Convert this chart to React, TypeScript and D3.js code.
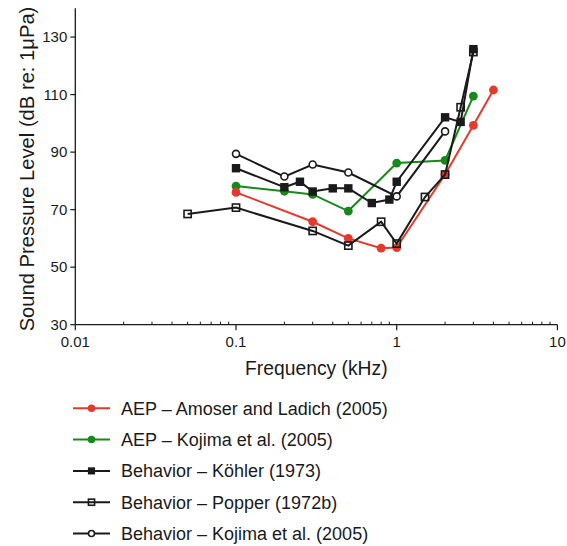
import React from "react";
import * as d3 from "d3";

const W = 567;
const H = 546;

// Data (frequency in kHz, SPL in dB re 1 µPa)
const amoserFreq = [0.1, 0.3, 0.5, 0.8, 1, 2, 3, 4];
const amoserSPL = [76, 65.8, 60, 56.6, 56.8, 82.2, 99.3, 111.6];

const kojimaAepFreq = [0.1, 0.2, 0.3, 0.5, 1, 2, 3];
const kojimaAepSPL = [78.2, 76.4, 75.3, 69.5, 86.2, 87.1, 109.5];

const kohlerFreq = [0.1, 0.2, 0.25, 0.3, 0.4, 0.5, 0.7, 0.9, 1, 2, 2.5, 3];
const kohlerSPL = [84.4, 77.8, 79.7, 76.3, 77.4, 77.4, 72.3, 73.5, 79.7, 102.1, 100.5, 125.8];

const popperFreq = [0.05, 0.1, 0.3, 0.5, 0.8, 1, 1.5, 2, 2.5, 3];
const popperSPL = [68.5, 70.7, 62.6, 57.5, 65.8, 58.2, 74.4, 82.2, 105.6, 124.8];

const kojimaBehFreq = [0.1, 0.2, 0.3, 0.5, 1, 2];
const kojimaBehSPL = [89.4, 81.5, 85.7, 82.9, 74.6, 97.2];

const yTicks = [30, 50, 70, 90, 110, 130];
const xMajor = [0.01, 0.1, 1, 10];
const xMajorLabels = ["0.01", "0.1", "1", "10"];

const legendLabels = [
  "AEP \u2013 Amoser and Ladich (2005)",
  "AEP \u2013 Kojima et al. (2005)",
  "Behavior \u2013 K\u00f6hler (1973)",
  "Behavior \u2013 Popper (1972b)",
  "Behavior \u2013 Kojima et al. (2005)",
];

type Marker = "dot" | "fsq" | "osq" | "ocirc";
const RED = "#e5392d";
const GREEN = "#17891a";
const BLACK = "#1a1a1a";

const FONT = "'Liberation Sans', Arial, Helvetica, sans-serif";

const x = d3.scaleLog().domain([0.01, 10]).range([75.3, 557.4]);
const y = d3.scaleLinear().domain([30, 140]).range([324.7, 8.3]);

function MarkerShape({ kind, cx, cy, color, s = 1 }: { kind: Marker; cx: number; cy: number; color: string; s?: number }) {
  if (kind === "dot") return <circle cx={cx} cy={cy} r={4.4 * s} fill={color} />;
  if (kind === "fsq") return <rect x={cx - 4.2 * s} y={cy - 4.2 * s} width={8.4 * s} height={8.4 * s} fill={color} />;
  if (kind === "osq")
    return <rect x={cx - 3.6 * s} y={cy - 3.6 * s} width={7.2 * s} height={7.2 * s} fill="none" stroke={color} strokeWidth={1.6} />;
  return <circle cx={cx} cy={cy} r={3.5 * s} fill="white" stroke={color} strokeWidth={1.6} />;
}

const series = [
  { f: kojimaAepFreq, v: kojimaAepSPL, color: GREEN, m: "dot" as Marker },
  { f: amoserFreq, v: amoserSPL, color: RED, m: "dot" as Marker },
  { f: kohlerFreq, v: kohlerSPL, color: BLACK, m: "fsq" as Marker },
  { f: kojimaBehFreq, v: kojimaBehSPL, color: BLACK, m: "ocirc" as Marker },
  { f: popperFreq, v: popperSPL, color: BLACK, m: "osq" as Marker },
];

const legendItems: { color: string; m: Marker }[] = [
  { color: RED, m: "dot" },
  { color: GREEN, m: "dot" },
  { color: BLACK, m: "fsq" },
  { color: BLACK, m: "osq" },
  { color: BLACK, m: "ocirc" },
];

export default function App() {
  const line = d3
    .line<[number, number]>()
    .x((d) => x(d[0]))
    .y((d) => y(d[1]));

  const minorTicks = x.ticks().filter((t) => Math.abs(Math.log10(t) - Math.round(Math.log10(t))) > 1e-6);

  const x0 = x.range()[0];
  const x1 = x.range()[1];
  const yb = y(30);
  const yt = y(140);

  return (
    <svg width={W} height={H} style={{ position: "absolute", left: 0, top: 0, background: "white" }} fontFamily={FONT}>
      <rect width={W} height={H} fill="white" />
      {/* axes */}
      <line x1={x0} x2={x0} y1={yt} y2={yb} stroke={BLACK} strokeWidth={1.3} />
      <line x1={x0} x2={x1} y1={yb} y2={yb} stroke={BLACK} strokeWidth={1.3} />
      {yTicks.map((t) => (
        <g key={"y" + t}>
          <line x1={x0 - 5} x2={x0} y1={y(t)} y2={y(t)} stroke={BLACK} strokeWidth={1.2} />
          <text x={x0 - 8} y={y(t)} dy="0.35em" textAnchor="end" fontSize={15} fill={BLACK}>
            {t}
          </text>
        </g>
      ))}
      {xMajor.map((t, i) => (
        <g key={"x" + t}>
          <line x1={x(t)} x2={x(t)} y1={yb} y2={yb + 5.5} stroke={BLACK} strokeWidth={1.2} />
          <text x={x(t)} y={yb + 22} textAnchor="middle" fontSize={15} fill={BLACK}>
            {xMajorLabels[i]}
          </text>
        </g>
      ))}
      {minorTicks.map((t) => (
        <line key={"m" + t} x1={x(t)} x2={x(t)} y1={yb} y2={yb - 3} stroke={BLACK} strokeWidth={1} />
      ))}
      <text x={(x0 + x1) / 2} y={375} textAnchor="middle" fontSize={19.3} fill={BLACK}>
        Frequency (kHz)
      </text>
      <text
        transform={`translate(34,169) rotate(-90)`}
        textAnchor="middle"
        fontSize={20.2}
        fill={BLACK}
      >
        Sound Pressure Level (dB re: 1μPa)
      </text>

      {/* series */}
      {series.map((s, i) => {
        const pts = s.f.map((f, j) => [f, s.v[j]] as [number, number]);
        return (
          <g key={"s" + i}>
            <path d={line(pts) || ""} fill="none" stroke={s.color} strokeWidth={2} />
            {pts.map((p, j) => (
              <MarkerShape key={j} kind={s.m} cx={x(p[0])} cy={y(p[1])} color={s.color} />
            ))}
          </g>
        );
      })}

      {/* legend */}
      {legendItems.map((it, i) => {
        const cy = 408.3 + i * 31.3;
        return (
          <g key={"l" + i}>
            <line x1={73} x2={110} y1={cy} y2={cy} stroke={it.color} strokeWidth={2} />
            <MarkerShape kind={it.m} cx={91.5} cy={cy} color={it.color} s={0.85} />
            <text x={121} y={cy} dy="0.36em" fontSize={18} fill={BLACK}>
              {legendLabels[i]}
            </text>
          </g>
        );
      })}
    </svg>
  );
}
